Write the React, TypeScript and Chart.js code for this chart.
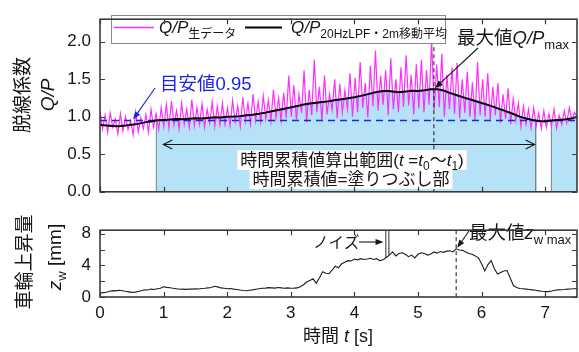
import { useEffect, useRef } from "react";
import { Chart, registerables } from "chart.js";

Chart.register(...registerables);

// ---- time axis ----
const TIME_MAX = 7.5;
const timeTicks = [0, 1, 2, 3, 4, 5, 6, 7];

// ---- derailment coefficient Q/P ----
// raw samples, evenly spaced over 0 – 7.5 s
const qpRaw = [
  1.08, 0.84, 1.02, 0.79, 1.05, 0.86, 0.97, 0.77, 1.04, 0.81, 1.0, 0.83, 0.95, 0.76, 1.06, 0.8, 0.99, 0.84, 1.03, 0.79, 1.1, 0.86, 1.04, 0.83, 1.12,
  0.87, 1.16, 0.85, 1.21, 0.89, 1.08, 0.84, 1.18, 0.9, 1.1, 0.86, 1.23, 0.88, 1.12, 0.9, 1.17, 0.86, 1.1, 0.91, 1.2, 0.87, 1.14, 0.89, 1.18, 0.9,
  1.12, 0.88, 1.22, 0.93, 1.14, 0.87, 1.26, 0.94, 1.18, 0.9, 1.3, 0.95, 1.2, 0.93, 1.28, 0.97, 1.22, 0.94, 1.36, 0.99, 1.25, 0.95, 1.32, 0.98, 1.55,
  1.0, 1.42, 0.96, 1.3, 1.05, 1.62, 0.93, 1.36, 1.02, 1.76, 1.06, 1.4, 0.95, 1.55, 1.03, 1.3, 1.09, 1.5, 0.98, 1.44, 1.06, 1.35, 1.1, 1.58, 1.0,
  1.52, 1.06, 1.73, 1.12, 1.45, 0.99, 1.68, 1.14, 1.88, 1.08, 1.55, 1.16, 1.62, 1.02, 1.78, 1.1, 1.5, 1.06, 1.66, 1.13, 1.82, 1.15, 1.56, 1.03, 1.7,
  1.11, 1.76, 1.06, 1.62, 1.16, 2.02, 1.09, 1.7, 1.13, 1.84, 1.0, 1.56, 1.1, 1.66, 1.04, 1.72, 0.98, 1.5, 1.05, 1.6, 1.0, 1.46, 0.95, 1.73, 1.02,
  1.5, 1.0, 1.58, 0.95, 1.4, 1.02, 1.45, 0.92, 1.3, 0.97, 1.38, 0.9, 1.24, 0.95, 1.18, 0.87, 1.14, 0.9, 1.1, 0.85, 1.12, 0.88, 1.05, 0.84, 1.08,
  0.86, 1.04, 0.88, 1.1, 0.85, 1.02, 0.9, 1.08, 0.92, 1.12, 0.95, 1.06, 1.0,
];

// 20 Hz LPF + 2 m moving average, one value every 0.1 s
const qpFilteredStep = 0.1;
const qpFiltered = [
  0.89, 0.885, 0.878, 0.874, 0.882, 0.893, 0.905, 0.925, 0.938, 0.952,
  0.958, 0.963, 0.97, 0.968, 0.975, 0.98, 0.978, 0.985, 0.992, 0.99,
  1.0, 1.003, 1.008, 1.02, 1.028, 1.04, 1.055, 1.072, 1.09, 1.108,
  1.125, 1.142, 1.163, 1.178, 1.188, 1.198, 1.208, 1.222, 1.232, 1.246,
  1.26, 1.278, 1.298, 1.32, 1.338, 1.345, 1.336, 1.328, 1.335, 1.346,
  1.344, 1.354, 1.366, 1.368, 1.35, 1.318, 1.29, 1.262, 1.236, 1.21,
  1.183, 1.158, 1.128, 1.098, 1.068, 1.036, 1.002, 0.978, 0.958, 0.942,
  0.936, 0.951, 0.958, 0.962, 0.978, 0.998,
];

const qpTarget = 0.95;
const qpMaxTime = 5.25;
const qpTicks = [0, 0.5, 1, 1.5, 2];

// ---- wheel lift z_w [mm], one value every 0.05 s ----
const zwStep = 0.05;
const zwValues = [
  0.5, 0.55, 0.6, 0.72, 0.8, 0.78, 0.85, 0.8, 0.72, 0.65, 0.58, 0.62, 0.7, 0.78, 0.92, 0.88, 1.0, 0.95, 1.05, 1.1,
  1.3, 1.22, 1.18, 1.1, 1.05, 0.98, 1.0, 0.96, 1.02, 1.0, 1.05, 1.02, 1.08, 1.1, 1.15, 1.2, 1.35, 1.28, 1.15, 1.1,
  1.05, 1.08, 1.0, 0.95, 0.88, 0.82, 0.8, 0.85, 0.9, 0.98, 1.05, 1.1, 1.12, 1.18, 1.15, 1.12, 1.2, 1.15, 1.1, 1.15,
  1.1, 1.12, 1.15, 1.3, 1.55, 1.9, 2.1, 2.3, 1.75, 2.4, 3.2, 3.0, 2.95, 3.4, 3.9, 3.7, 4.2, 4.4, 4.6, 4.55,
  4.8, 4.7, 4.85, 4.75, 4.8, 4.9, 4.75, 4.85, 4.6, 4.7, 5.0, 5.3, 5.7, 5.2, 5.5, 5.6, 5.4, 5.1, 5.3, 4.95,
  5.4, 5.6, 5.5, 5.3, 5.45, 5.7, 5.55, 5.75, 5.65, 5.8, 5.85, 5.7, 6.1, 5.95, 5.9, 5.7, 5.5, 5.4, 5.2, 4.95,
  4.2, 3.3, 4.1, 4.6, 3.6, 2.9, 3.1, 3.3, 3.35, 2.4, 1.45, 1.2, 1.08, 1.05, 1.0, 0.95, 0.9, 0.85, 0.78, 0.72,
  0.7, 0.68, 0.75, 0.85, 0.9, 0.92, 0.95, 1.0, 1.02, 1.05, 1.08,
];
const noiseTimes = [4.49, 4.54];
const noiseTop = 8.45;
const zwTicks = [0, 2, 4, 6, 8];

// ---- styling ----
const FONT = '"Liberation Sans", "Noto Sans CJK JP", sans-serif';
const INK = "#161616";
const FRAME = "#3a3a3a";
const FILL_BLUE = "#b6e2f8";
const MAGENTA = "#ff2eff";
const BLUE = "#1c22e8";

type Pt = { x: number; y: number | null };
type Part = { t: string; s: number; i?: boolean; dy?: number };

const rawPoints: Pt[] = qpRaw.map((v, i) => ({ x: (i * TIME_MAX) / (qpRaw.length - 1), y: v }));
const filteredPoints: Pt[] = qpFiltered.map((v, i) => ({ x: +(i * qpFilteredStep).toFixed(2), y: v }));
const zwPoints: Pt[] = zwValues.map((v, i) => ({ x: +(i * zwStep).toFixed(2), y: v }));

// region where the filtered Q/P exceeds the target value, closed down to 0
function buildFillRegion(pts: Pt[], th: number) {
  const out: Pt[] = [];
  const crossings: number[] = [];
  for (let i = 0; i < pts.length; i++) {
    const v = pts[i].y as number;
    if (i > 0) {
      const p = pts[i - 1];
      const pv = p.y as number;
      if (pv >= th !== v >= th) {
        const tc = p.x + ((th - pv) / (v - pv)) * (pts[i].x - p.x);
        crossings.push(tc);
        if (v >= th) out.push({ x: tc, y: 0 }, { x: tc, y: th });
        else out.push({ x: tc, y: th }, { x: tc, y: 0 });
      }
    }
    if (v >= th) out.push({ x: pts[i].x, y: v });
  }
  return { out, crossings };
}
const fillRegion = buildFillRegion(filteredPoints, qpTarget);

const zwMaxIndex = zwValues.indexOf(Math.max(...zwValues));
const zwMaxTime = zwMaxIndex * zwStep;

// noise spikes: a thin up-and-down excursion to the top of the panel
const noisePoints: Pt[] = [];
noiseTimes.forEach((t) => {
  const base = zwValues[Math.round(t / zwStep)];
  noisePoints.push({ x: t, y: base }, { x: t, y: noiseTop }, { x: t + 0.006, y: base }, { x: t + 0.01, y: null });
});

// ---- drawing helpers ----
const fontOf = (p: Part) => `${p.i ? "italic " : ""}${p.s}px ${FONT}`;
function richWidth(ctx: CanvasRenderingContext2D, parts: Part[]) {
  let w = 0;
  for (const p of parts) {
    ctx.font = fontOf(p);
    w += ctx.measureText(p.t).width;
  }
  return w;
}
function drawRich(ctx: CanvasRenderingContext2D, parts: Part[], x: number, y: number, align = "left", color = INK) {
  const w = richWidth(ctx, parts);
  let cx = align === "left" ? x : align === "center" ? x - w / 2 : x - w;
  ctx.fillStyle = color;
  ctx.textAlign = "left";
  ctx.textBaseline = "alphabetic";
  for (const p of parts) {
    ctx.font = fontOf(p);
    ctx.fillText(p.t, cx, y + (p.dy || 0));
    cx += ctx.measureText(p.t).width;
  }
  return w;
}
function arrow(ctx: CanvasRenderingContext2D, x1: number, y1: number, x2: number, y2: number, color: string, head = 8, half = 3) {
  const a = Math.atan2(y2 - y1, x2 - x1);
  const c = Math.cos(a), s = Math.sin(a);
  ctx.strokeStyle = color;
  ctx.fillStyle = color;
  ctx.lineWidth = 1.1;
  ctx.beginPath();
  ctx.moveTo(x1, y1);
  ctx.lineTo(x2 - c * head * 0.7, y2 - s * head * 0.7);
  ctx.stroke();
  ctx.beginPath();
  ctx.moveTo(x2, y2);
  ctx.lineTo(x2 - head * c + half * s, y2 - head * s - half * c);
  ctx.lineTo(x2 - head * c - half * s, y2 - head * s + half * c);
  ctx.closePath();
  ctx.fill();
}
function frameAndTicks(chart: any, yTicks: number[]) {
  const { ctx, chartArea: a, scales } = chart;
  const len = 5;
  ctx.save();
  ctx.strokeStyle = FRAME;
  ctx.lineWidth = 1.2;
  ctx.beginPath();
  for (const v of timeTicks) {
    const px = Math.round(scales.x.getPixelForValue(v)) + 0.5;
    ctx.moveTo(px, a.bottom);
    ctx.lineTo(px, a.bottom - len);
    ctx.moveTo(px, a.top);
    ctx.lineTo(px, a.top + len);
  }
  for (const v of yTicks) {
    const py = Math.round(scales.y.getPixelForValue(v)) + 0.5;
    ctx.moveTo(a.left, py);
    ctx.lineTo(a.left + len, py);
    ctx.moveTo(a.right, py);
    ctx.lineTo(a.right - len, py);
  }
  ctx.stroke();
  ctx.lineWidth = 1.6;
  ctx.strokeRect(a.left, a.top, a.right - a.left, a.bottom - a.top);
  ctx.restore();
}
function rotatedLabel(ctx: CanvasRenderingContext2D, parts: Part[], cx: number, cy: number) {
  ctx.save();
  ctx.translate(cx, cy);
  ctx.rotate(-Math.PI / 2);
  drawRich(ctx, parts, 0, 7, "center");
  ctx.restore();
}

// ---- panel decorations ----
const topDecor = {
  id: "topDecor",
  afterDatasetsDraw(chart: any) {
    const { ctx, chartArea: a, scales } = chart;
    const x = scales.x, y = scales.y;
    ctx.save();

    // time of the Q/P maximum
    const xm = x.getPixelForValue(qpMaxTime);
    ctx.strokeStyle = INK;
    ctx.lineWidth = 1;
    ctx.setLineDash([4, 3]);
    ctx.beginPath();
    ctx.moveTo(xm, a.top);
    ctx.lineTo(xm, a.bottom);
    ctx.stroke();
    ctx.setLineDash([]);

    // range of the time integral
    const t0 = fillRegion.crossings[0];
    const t1 = fillRegion.crossings[1];
    const xl = x.getPixelForValue(t0) + 7;
    const xr = x.getPixelForValue(t1) - 1;
    const ya = 144.5;
    ctx.strokeStyle = INK;
    ctx.lineWidth = 1.1;
    ctx.beginPath();
    ctx.moveTo(xl, ya);
    ctx.lineTo(xr, ya);
    ctx.moveTo(xl + 9, ya - 4.5);
    ctx.lineTo(xl, ya);
    ctx.lineTo(xl + 9, ya + 4.5);
    ctx.moveTo(xr - 9, ya - 4.5);
    ctx.lineTo(xr, ya);
    ctx.lineTo(xr - 9, ya + 4.5);
    ctx.stroke();

    const line1: Part[] = [
      { t: "時間累積値算出範囲(", s: 17 },
      { t: "t", s: 17, i: true },
      { t: " =", s: 17 },
      { t: "t", s: 17, i: true },
      { t: "0", s: 12, dy: 4 },
      { t: "～", s: 17 },
      { t: "t", s: 17, i: true },
      { t: "1", s: 12, dy: 4 },
      { t: ")", s: 17 },
    ];
    const line2: Part[] = [{ t: "時間累積値=塗りつぶし部", s: 17 }];
    const w1 = richWidth(ctx, line1);
    const w2 = richWidth(ctx, line2);
    ctx.fillStyle = "#fff";
    ctx.fillRect(352 - w1 / 2 - 3, 150, w1 + 6, 20);
    ctx.fillRect(351 - w2 / 2 - 3, 170, w2 + 6, 19);
    drawRich(ctx, line1, 352, 166, "center");
    drawRich(ctx, line2, 351, 185, "center");

    // target value label
    const tx = x.getPixelForValue(0.52), ty = y.getPixelForValue(qpTarget) - 1;
    arrow(ctx, 155, 88, tx, ty, BLUE, 8, 3);
    drawRich(ctx, [{ t: "目安値0.95", s: 18.5 }], 160, 90, "left", BLUE);

    // maximum label
    const my = y.getPixelForValue(qpFiltered[Math.round(qpMaxTime / qpFilteredStep)]) - 1;
    arrow(ctx, 478, 48, xm + 1, my, INK, 8, 3);
    drawRich(ctx, [
      { t: "最大値", s: 18.5 },
      { t: "Q/P", s: 18.5, i: true },
      { t: "max", s: 13, dy: 5 },
    ], 457, 44);

    // legend
    ctx.fillStyle = "#fff";
    ctx.fillRect(111, 15, 334, 28);
    ctx.strokeStyle = "#8a8a8a";
    ctx.lineWidth = 1;
    ctx.strokeRect(111.5, 15.5, 334, 28);
    ctx.strokeStyle = MAGENTA;
    ctx.lineWidth = 1.3;
    ctx.beginPath();
    ctx.moveTo(114, 27.5);
    ctx.lineTo(154, 27.5);
    ctx.stroke();
    drawRich(ctx, [
      { t: "Q/P", s: 17, i: true },
      { t: "生データ", s: 12, dy: 5 },
    ], 159, 33);
    ctx.strokeStyle = "#000";
    ctx.lineWidth = 2;
    ctx.beginPath();
    ctx.moveTo(245, 27.5);
    ctx.lineTo(282, 27.5);
    ctx.stroke();
    drawRich(ctx, [
      { t: "Q/P", s: 17, i: true },
      { t: "20HzLPF・2m移動平均", s: 12, dy: 5 },
    ], 291, 33);

    // axis title
    rotatedLabel(ctx, [{ t: "脱線係数", s: 19 }], 22, 95);
    rotatedLabel(ctx, [{ t: "Q/P", s: 19, i: true }], 47, 95);
    ctx.restore();
  },
  afterDraw(chart: any) {
    frameAndTicks(chart, qpTicks);
  },
};

const bottomDecor = {
  id: "bottomDecor",
  afterDatasetsDraw(chart: any) {
    const { ctx, chartArea: a, scales } = chart;
    const x = scales.x, y = scales.y;
    ctx.save();
    const xm = x.getPixelForValue(zwMaxTime);
    ctx.strokeStyle = INK;
    ctx.lineWidth = 1;
    ctx.setLineDash([4, 3]);
    ctx.beginPath();
    ctx.moveTo(xm, a.top);
    ctx.lineTo(xm, a.bottom);
    ctx.stroke();
    ctx.setLineDash([]);

    // noise label
    const nx = x.getPixelForValue(noiseTimes[0]) - 2;
    drawRich(ctx, [{ t: "ノイズ", s: 15.5 }], 313, 37);
    arrow(ctx, 359, 31, nx, 31, INK, 8, 3);

    // maximum label
    const my = y.getPixelForValue(zwValues[zwMaxIndex]) - 1;
    arrow(ctx, 469, 20, xm + 1, my, INK, 8, 3);
    drawRich(ctx, [
      { t: "最大値", s: 18.5 },
      { t: "z", s: 18.5, i: true },
      { t: "w max", s: 13, dy: 5 },
    ], 469, 28);

    // axis titles
    rotatedLabel(ctx, [{ t: "車輪上昇量", s: 19 }], 24, 51);
    rotatedLabel(ctx, [
      { t: "z", s: 19, i: true },
      { t: "w", s: 13, dy: 5 },
      { t: " [mm]", s: 19 },
    ], 54, 46);
    drawRich(ctx, [
      { t: "時間 ", s: 18 },
      { t: "t", s: 18, i: true },
      { t: " [s]", s: 18 },
    ], 338, 131, "center");
    ctx.restore();
  },
  afterDraw(chart: any) {
    frameAndTicks(chart, zwTicks);
  },
};

const tickFont = { size: 17, family: '"Liberation Sans", Arial, sans-serif' };

export default function App() {
  const topRef = useRef<HTMLCanvasElement>(null);
  const botRef = useRef<HTMLCanvasElement>(null);

  useEffect(() => {
    const topChart = new Chart(topRef.current!, {
      type: "line",
      data: {
        datasets: [
          { data: filteredPoints as any, borderColor: "#000", borderWidth: 2, pointRadius: 0, fill: false },
          {
            data: [{ x: 0, y: qpTarget }, { x: TIME_MAX, y: qpTarget }] as any,
            borderColor: BLUE,
            borderWidth: 1.6,
            borderDash: [7, 5],
            pointRadius: 0,
            fill: false,
          },
          { data: rawPoints as any, borderColor: MAGENTA, borderWidth: 1.2, pointRadius: 0, fill: false },
          {
            data: fillRegion.out as any,
            borderColor: "#6f8593",
            borderWidth: 1,
            backgroundColor: FILL_BLUE,
            pointRadius: 0,
            fill: "origin",
          },
        ],
      },
      options: {
        animation: false,
        responsive: false,
        events: [],
        layout: { padding: { left: 0, right: 2, top: 10, bottom: 7 } },
        plugins: { legend: { display: false }, tooltip: { enabled: false } },
        scales: {
          x: { type: "linear", min: 0, max: TIME_MAX, display: false },
          y: {
            min: 0,
            max: 2.3,
            afterFit: (s: any) => {
              s.width = 100;
            },
            grid: { display: false, drawTicks: false },
            border: { display: false },
            ticks: {
              stepSize: 0.5,
              includeBounds: false,
              padding: 9,
              color: INK,
              font: tickFont,
              callback: (v: any) => Number(v).toFixed(1),
            },
          },
        },
      },
      plugins: [topDecor],
    });

    const botChart = new Chart(botRef.current!, {
      type: "line",
      data: {
        datasets: [
          { data: zwPoints as any, borderColor: "#1e1e1e", borderWidth: 1.1, pointRadius: 0, fill: false },
          { data: noisePoints as any, borderColor: "#6a6a6a", borderWidth: 1, pointRadius: 0, fill: false, spanGaps: false },
        ],
      },
      options: {
        animation: false,
        responsive: false,
        events: [],
        layout: { padding: { left: 0, right: 2, top: 8, bottom: 0 } },
        plugins: { legend: { display: false }, tooltip: { enabled: false } },
        scales: {
          x: {
            type: "linear",
            min: 0,
            max: TIME_MAX,
            afterFit: (s: any) => {
              s.height = 55;
            },
            grid: { display: false, drawTicks: false },
            border: { display: false },
            ticks: { stepSize: 1, includeBounds: false, padding: 6, color: INK, font: tickFont, maxRotation: 0 },
          },
          y: {
            min: 0,
            max: 8.45,
            afterFit: (s: any) => {
              s.width = 100;
            },
            grid: { display: false, drawTicks: false },
            border: { display: false },
            ticks: { stepSize: 2, includeBounds: false, padding: 9, color: INK, font: tickFont },
          },
        },
      },
      plugins: [bottomDecor],
    });

    return () => {
      topChart.destroy();
      botChart.destroy();
    };
  }, []);

  return (
    <div style={{ position: "fixed", left: 0, top: 0, width: 579, height: 352, background: "#fff" }}>
      <canvas ref={topRef} width={579} height={211} style={{ position: "absolute", left: 0, top: 0, width: 579, height: 211 }} />
      <canvas ref={botRef} width={579} height={141} style={{ position: "absolute", left: 0, top: 211, width: 579, height: 141 }} />
    </div>
  );
}
